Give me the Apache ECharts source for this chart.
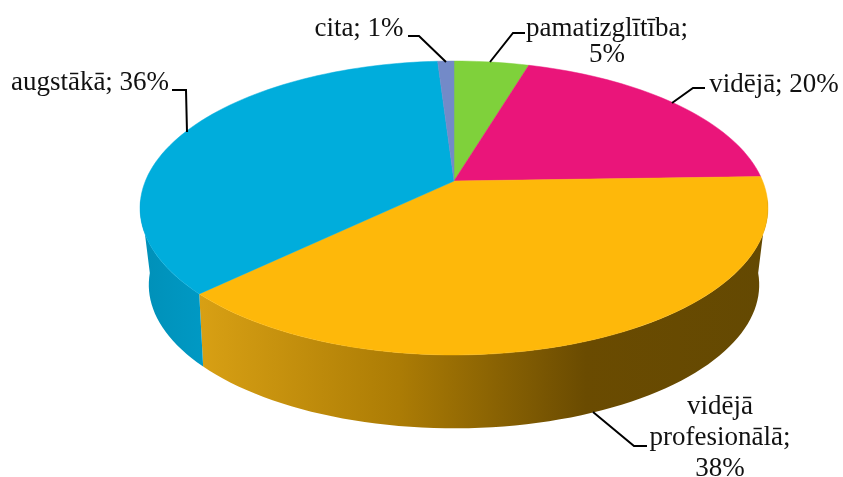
<!DOCTYPE html>
<html>
<head>
<meta charset="utf-8">
<style>
  html, body { margin: 0; padding: 0; background: #fff; }
  #main { width: 843px; height: 477px; }
</style>
<script src="https://cdn.jsdelivr.net/npm/echarts@6/dist/echarts.min.js"></script>
</head>
<body>
<div id="main"></div>
<script>
// clockwise from 12 o'clock
const categories = ['pamatizglītība', 'vidējā', 'vidējā profesionālā', 'augstākā', 'cita'];
const shares = [4.6, 19.9, 38.3, 36.2, 1.0];
const topColors = ['#7fd13b', '#ea157a', '#feb80a', '#00addc', '#738ac8'];

// perspective of the tilted disc
const TILT = 0.1837;
const BASE_TILT = 0.205;
const BASE_SCALE = 0.968;
const BASE_DROP = 0.524;
const FRONT = [27, 73]; // part of the rim facing the viewer, in percent

const wallStops = {
  2: [[0, '#d8a014'], [0.35, '#ac7c05'], [0.68, '#6a4b01'], [1, '#644902']],
  3: [[0, '#0090b8'], [1, '#0099c4']]
};

const slices = [];
let acc = 0;
shares.forEach((s, i) => {
  slices.push([acc, acc + s, i]);
  acc += s;
});

function disc(pct) {
  const t = pct / 100 * Math.PI * 2;
  const u = Math.sin(t), v = Math.cos(t);
  const w = 1 + TILT * v;
  return [u / w, v / w];
}

function base(pct) {
  const t = pct / 100 * Math.PI * 2;
  const u = Math.sin(t), v = Math.cos(t);
  const w = 1 + BASE_TILT * v;
  return [BASE_SCALE * u / w, BASE_SCALE * v / w - BASE_DROP];
}

function arc(fn, from, to, api) {
  const n = Math.max(2, Math.ceil(Math.abs(to - from) * 2));
  const pts = [];
  for (let i = 0; i <= n; i++) {
    pts.push(api.coord(fn(from + (to - from) * i / n)));
  }
  return pts;
}

function renderWall(params, api) {
  const idx = api.value(2);
  const from = Math.max(api.value(0), FRONT[0]);
  const to = Math.min(api.value(1), FRONT[1]);
  if (from >= to || !wallStops[idx]) return;
  const fill = {
    type: 'linear', x: 0, y: 0, x2: 1, y2: 0,
    colorStops: wallStops[idx].map(s => ({ offset: s[0], color: s[1] }))
  };
  return {
    type: 'polygon',
    shape: { points: arc(disc, from, to, api).concat(arc(base, to, from, api)) },
    style: { fill: fill }
  };
}

function renderTop(params, api) {
  const idx = api.value(2);
  const pts = [api.coord([0, 0])].concat(arc(disc, api.value(0), api.value(1), api));
  return {
    type: 'polygon',
    shape: { points: pts },
    style: { fill: topColors[idx], stroke: topColors[idx], lineWidth: 0.5 }
  };
}

// labels: text, centre x, centre y, line height
const labelText = [
  { t: 'pamatizglītība;\n5%', x: 607, y: 42, lh: 26 },
  { t: 'vidējā; 20%', x: 774, y: 85, lh: 27 },
  { t: 'vidējā\nprofesionālā;\n38%', x: 720, y: 438, lh: 31 },
  { t: 'augstākā; 36%', x: 90, y: 83, lh: 27 },
  { t: 'cita; 1%', x: 359, y: 29, lh: 27 }
];
const leaders = [
  [[490, 62], [513, 33], [525, 33]],
  [[672, 103], [693, 88], [705, 88]],
  [[593, 412], [634, 446], [647, 446]],
  [[187, 132], [186, 90], [172, 90]],
  [[446, 62], [419, 36], [408, 36]]
];

const chart = echarts.init(document.getElementById('main'), null, { renderer: 'canvas' });
chart.setOption({
  animation: false,
  backgroundColor: '#ffffff',
  grid: { left: 145.4, top: 39, width: 617.2, height: 284 },
  xAxis: { type: 'value', min: -1, max: 1, show: false },
  yAxis: { type: 'value', min: -1, max: 1, show: false },
  series: [
    { type: 'custom', data: slices, renderItem: renderWall, clip: false, silent: true, z: 1 },
    { type: 'custom', data: slices, renderItem: renderTop, clip: false, silent: true, z: 2 }
  ],
  graphic: leaders.map(pts => ({
    type: 'polyline',
    z: 5,
    shape: { points: pts },
    style: { stroke: '#000', lineWidth: 2, fill: null }
  })).concat(labelText.map(l => ({
    type: 'text',
    z: 6,
    x: l.x,
    y: l.y,
    style: {
      text: l.t,
      fill: '#111',
      font: '27px "Liberation Serif"',
      lineHeight: l.lh,
      align: 'center',
      verticalAlign: 'middle'
    }
  })))
});
</script>
</body>
</html>
